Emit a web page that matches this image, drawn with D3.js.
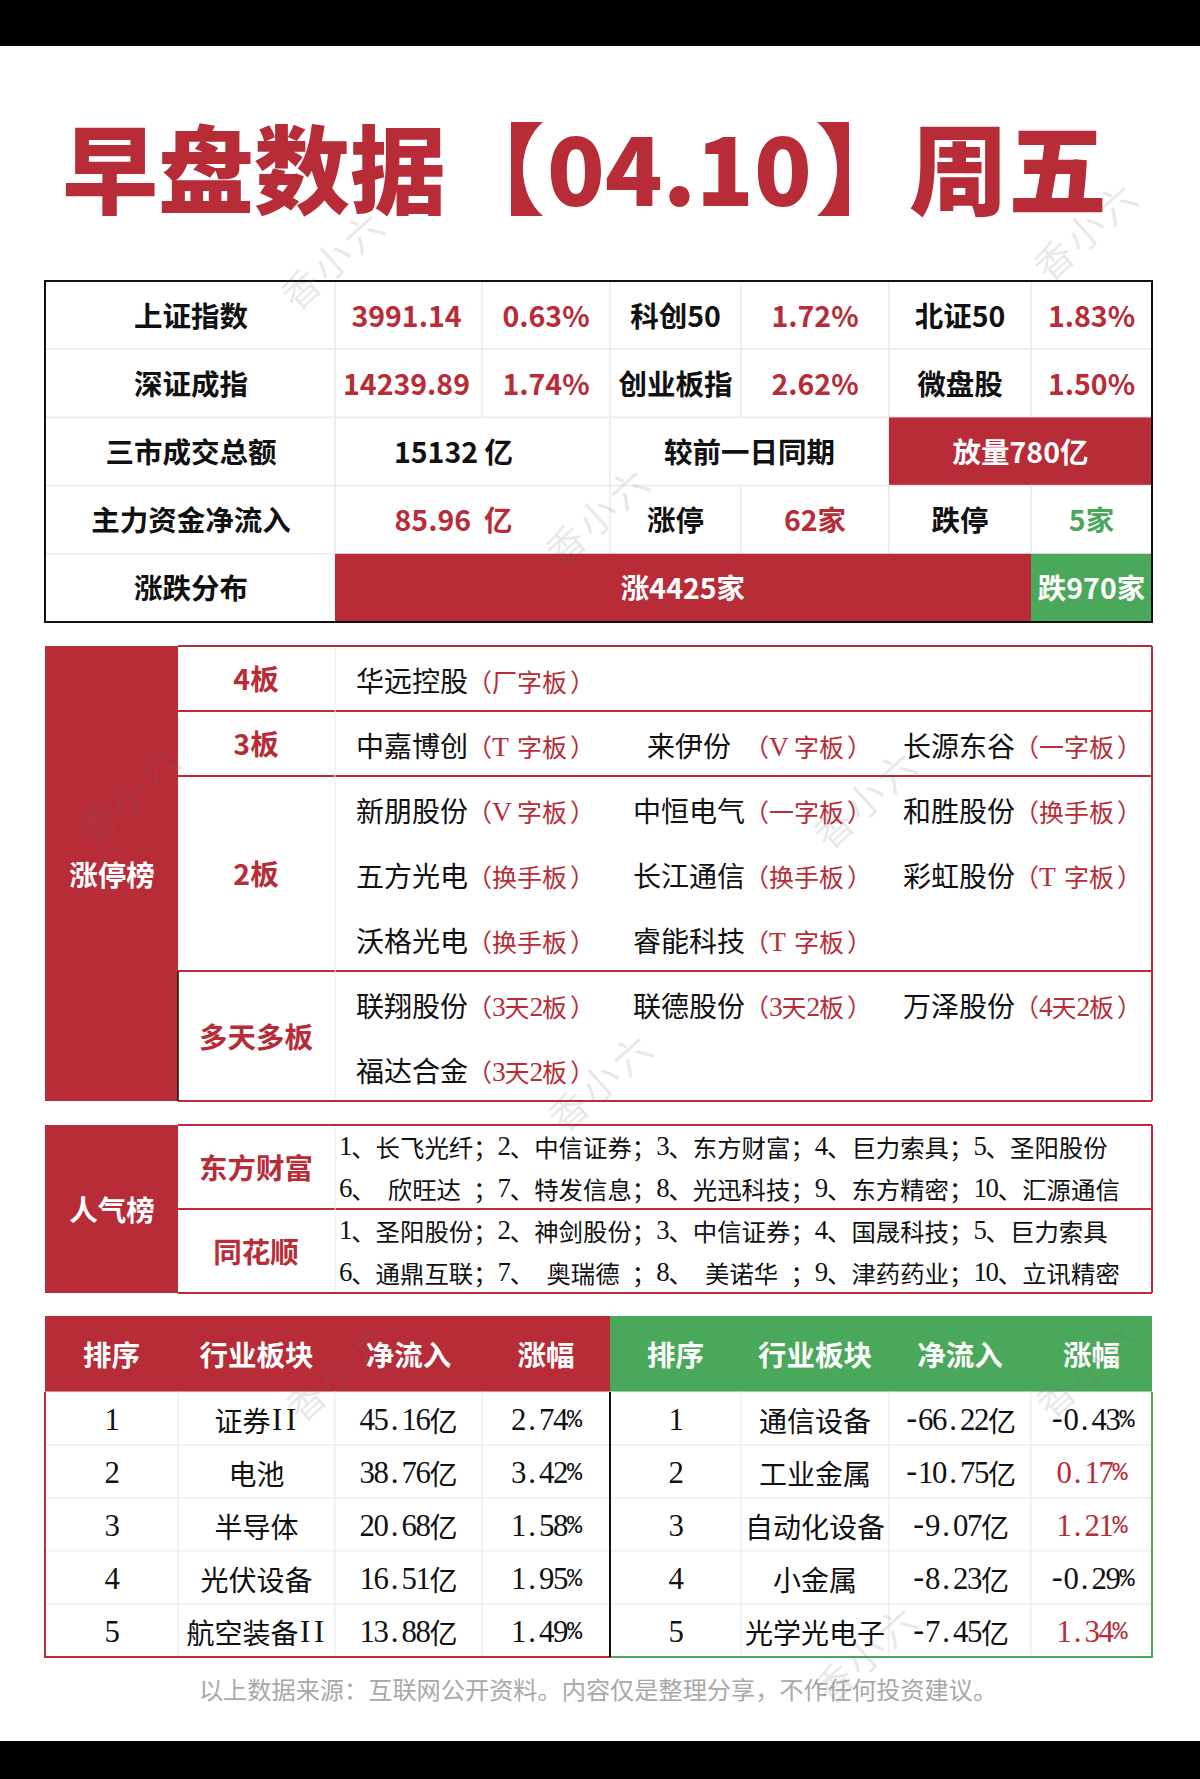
<!DOCTYPE html>
<html>
<head>
<meta charset="utf-8">
<script src="https://cdn.jsdelivr.net/npm/d3@7"></script>
<style>
  html, body { margin: 0; padding: 0; background: #fff; }
  svg { display: block; }
  text { white-space: pre; dominant-baseline: central; }
</style>
</head>
<body>
<svg id="chart" width="1200" height="1779"></svg>
<script>
// values
const titleParts = ['早盘数据', '【', '04.10', '】', '周五'];

const rowShanghai = ['上证指数', '3991.14', '0.63%', '科创50', '1.72%', '北证50', '1.83%'];
const rowShenzhen = ['深证成指', '14239.89', '1.74%', '创业板指', '2.62%', '微盘股', '1.50%'];
const rowVolume = ['三市成交总额', '15132 亿', '较前一日同期', '放量780亿'];
const rowFlow = ['主力资金净流入', '85.96  亿', '涨停', '62家', '跌停', '5家'];
const rowBreadth = ['涨跌分布', '涨4425家', '跌970家'];

const limitTitle = '涨停榜';
const boardLabels = ['4板', '3板', '2板', '多天多板'];
const boardRowCounts = [1, 1, 3, 2];
const stockRows = [
  [['华远控股', '（厂字板）']],
  [['中嘉博创', '（T 字板）'], ['来伊份', '（V 字板）'], ['长源东谷', '（一字板）']],
  [['新朋股份', '（V 字板）'], ['中恒电气', '（一字板）'], ['和胜股份', '（换手板）']],
  [['五方光电', '（换手板）'], ['长江通信', '（换手板）'], ['彩虹股份', '（T 字板）']],
  [['沃格光电', '（换手板）'], ['睿能科技', '（T 字板）']],
  [['联翔股份', '（3天2板）'], ['联德股份', '（3天2板）'], ['万泽股份', '（4天2板）']],
  [['福达合金', '（3天2板）']]
];

const hotTitle = '人气榜';
const hotSources = ['东方财富', '同花顺'];
const hotLines = [
  '1、长飞光纤；2、中信证券；3、东方财富；4、巨力索具；5、圣阳股份',
  '6、 欣旺达 ；7、特发信息；8、光迅科技；9、东方精密；10、汇源通信',
  '1、圣阳股份；2、神剑股份；3、中信证券；4、国晟科技；5、巨力索具',
  '6、通鼎互联；7、 奥瑞德 ；8、 美诺华 ；9、津药药业；10、立讯精密'
];

const sectorHeader = ['排序', '行业板块', '净流入', '涨幅'];
const ranks = ['1', '2', '3', '4', '5'];
const inSectors = ['证券II', '电池', '半导体', '光伏设备', '航空装备II'];
const inFlows = ['45.16亿', '38.76亿', '20.68亿', '16.51亿', '13.88亿'];
const inChanges = ['2.74%', '3.42%', '1.58%', '1.95%', '1.49%'];
const outSectors = ['通信设备', '工业金属', '自动化设备', '小金属', '光学光电子'];
const outFlows = ['-66.22亿', '-10.75亿', '-9.07亿', '-8.23亿', '-7.45亿'];
const outChanges = ['-0.43%', '0.17%', '1.21%', '-0.29%', '1.34%'];

const footNote = '以上数据来源：互联网公开资料。内容仅是整理分享，不作任何投资建议。';
const watermark = '香小六';

// layout
const RED = '#b72c36', GREEN = '#4aa85a', GRID = '#ececec';
const SANS = '"Noto Sans CJK SC", sans-serif';
const svg = d3.select('#chart');
const col = d3.scaleOrdinal(d3.range(8), [45, 178, 335, 482, 610, 741, 889, 1031]).unknown(1152);
const marketY = d3.scaleBand().domain(d3.range(5)).range([281, 622]);
const limitY = d3.scaleBand().domain(d3.range(7)).range([646, 1101]);
const hotY = d3.scaleBand().domain(d3.range(4)).range([1125, 1293]);
const sectorY = d3.scaleBand().domain(d3.range(5)).range([1392, 1657]);

// full width chinese + half width latin, one slot per character like the song font in the picture
function gridText(sel, size) {
  sel.each(function (d) {
    const chars = Array.from(d.text);
    const isLatin = c => c.charCodeAt(0) < 128;
    const w = c => (isLatin(c) ? size / 2 : size);
    const total = d3.sum(chars, w);
    let x = d.anchor === 'middle' ? d.x - total / 2 : d.x;
    const slots = chars.map(c => {
      const s = { c: c, x: x };
      x += w(c);
      return s;
    });
    d3.select(this).selectAll('tspan').data(slots).join('tspan')
      .attr('x', s => {
        if (s.c === '.') return s.x + size * 0.12;
        if (s.c === 'I') return s.x + size * 0.05;
        if (s.c === '-') return s.x - size * 0.05;
        if (s.c === '）') return s.x + size * 0.12;
        return s.x;
      })
      .style('font-size', s => (s.c === '%' ? size * 0.9 + 'px' : isLatin(s.c) ? size * 1.1 + 'px' : size + 'px'))
      .style('font-family', s => (s.c === '%' || s.c === '-' ? '"Liberation Mono"' : isLatin(s.c) ? '"Liberation Serif"' : SANS))
      .text(s => s.c);
  });
}

// black bars of the screenshot
svg.selectAll('rect.bar').data([[0, 46], [1741, 1779]]).join('rect')
  .attr('class', 'bar').attr('x', 0).attr('width', 1200)
  .attr('y', d => d[0]).attr('height', d => d[1] - d[0]).attr('fill', '#000');

// title
const titleX = [62, 446, 547, 815, 909];
const titleSize = [96, 99, 95, 99, 99];
svg.selectAll('text.title').data(titleParts).join('text')
  .attr('class', 'title')
  .attr('x', (d, i) => titleX[i]).attr('y', 164)
  .attr('font-family', SANS).attr('font-weight', 900).attr('font-size', (d, i) => titleSize[i])
  .attr('fill', RED)
  .text(d => d);

// market table
const fullSpans = [[0, 2], [2, 3], [3, 4], [4, 5], [5, 6], [6, 7], [7, 8]];
const fullKinds = ['black', 'red', 'red', 'black', 'red', 'black', 'red'];
const marketRows = [
  { values: rowShanghai, spans: fullSpans, kinds: fullKinds, dx: [1, -2, 0, 0, 0, 0, 0] },
  { values: rowShenzhen, spans: fullSpans, kinds: fullKinds, dx: [1, -2, 0, 0, 0, 0, 0] },
  { values: rowVolume, spans: [[0, 2], [2, 4], [4, 6], [6, 8]], kinds: ['black', 'black', 'black', 'fillRed'], dx: [1, -19, 0, 0] },
  { values: rowFlow, spans: [[0, 2], [2, 4], [4, 5], [5, 6], [6, 7], [7, 8]], kinds: ['black', 'red', 'black', 'red', 'black', 'green'], dx: [1, -19, 0, 0, 0, 0] },
  { values: rowBreadth, spans: [[0, 2], [2, 7], [7, 8]], kinds: ['black', 'fillRed', 'fillGreen'], dx: [1, 0, 0] }
];
const marketCells = marketRows.flatMap((r, ri) => r.values.map((v, i) => ({
  row: ri, text: v, x0: col(r.spans[i][0]), x1: col(r.spans[i][1]), kind: r.kinds[i], dx: r.dx[i]
})));
const textColor = { black: '#111', red: RED, green: GREEN, fillRed: '#fff', fillGreen: '#fff' };

svg.selectAll('rect.mcell').data(marketCells).join('rect')
  .attr('class', 'mcell')
  .attr('x', d => d.x0).attr('width', d => d.x1 - d.x0)
  .attr('y', d => marketY(d.row)).attr('height', marketY.bandwidth())
  .attr('fill', d => (d.kind === 'fillRed' ? RED : d.kind === 'fillGreen' ? GREEN : '#fff'))
  .attr('stroke', d => (d.kind.startsWith('fill') ? 'none' : GRID)).attr('stroke-width', 1.5);
svg.selectAll('text.mtext').data(marketCells).join('text')
  .attr('class', 'mtext')
  .attr('x', d => (d.x0 + d.x1) / 2 + d.dx).attr('y', d => marketY(d.row) + marketY.bandwidth() / 2 - 1)
  .attr('text-anchor', 'middle')
  .attr('font-family', SANS).attr('font-weight', 700).attr('font-size', 28.5)
  .attr('fill', d => textColor[d.kind])
  .text(d => d.text);
svg.append('rect')
  .attr('x', 45).attr('y', 281).attr('width', 1107).attr('height', 341)
  .attr('fill', 'none').attr('stroke', '#111').attr('stroke-width', 2);

// limit-up board
svg.append('rect').attr('x', 45).attr('y', 646).attr('width', 133).attr('height', 455).attr('fill', RED);
svg.append('text')
  .attr('x', 112).attr('y', limitY(3) + limitY.bandwidth() / 2)
  .attr('text-anchor', 'middle').attr('font-family', SANS).attr('font-weight', 700).attr('font-size', 28.5)
  .attr('fill', '#fff').text(limitTitle);

let rowStart = 0;
const boards = boardLabels.map((label, i) => {
  const b = { label: label, first: rowStart, count: boardRowCounts[i] };
  rowStart += boardRowCounts[i];
  return b;
});
svg.selectAll('line.bsep').data(boards).join('line')
  .attr('class', 'bsep')
  .attr('x1', 178).attr('x2', 1152)
  .attr('y1', d => limitY(d.first) + limitY.bandwidth() * d.count)
  .attr('y2', d => limitY(d.first) + limitY.bandwidth() * d.count)
  .attr('stroke', RED).attr('stroke-width', 2);
svg.append('line').attr('x1', 178).attr('x2', 1152).attr('y1', 646).attr('y2', 646).attr('stroke', RED).attr('stroke-width', 2);
svg.append('line').attr('x1', 1152).attr('x2', 1152).attr('y1', 646).attr('y2', 1101).attr('stroke', RED).attr('stroke-width', 2);
svg.append('line').attr('x1', 335).attr('x2', 335).attr('y1', 647).attr('y2', 1100).attr('stroke', GRID);
svg.append('line').attr('x1', 178).attr('x2', 178).attr('y1', 971).attr('y2', 1101).attr('stroke', '#111').attr('stroke-width', 1.5);
svg.selectAll('text.blabel').data(boards).join('text')
  .attr('class', 'blabel')
  .attr('x', 256)
  .attr('y', d => limitY(d.first) + limitY.bandwidth() * d.count / 2 - 1)
  .attr('text-anchor', 'middle').attr('font-family', SANS).attr('font-weight', 700).attr('font-size', 28.5)
  .attr('fill', RED).text(d => d.label);

const stockCols = [356, 633, 903];
const stocks = stockRows.flatMap((r, ri) => r.map((s, i) => ({ row: ri, col: i, name: s[0], tag: s[1] })));
svg.selectAll('text.stock').data(stocks).join('text')
  .attr('class', 'stock')
  .attr('x', d => stockCols[d.col] + 56)
  .attr('y', d => limitY(d.row) + limitY.bandwidth() / 2 + 1)
  .attr('text-anchor', 'middle').attr('font-family', SANS).attr('font-size', 28)
  .attr('fill', '#111').text(d => d.name);
svg.selectAll('text.tag').data(stocks.map(d => ({
  text: d.tag, x: stockCols[d.col] + 111, y: limitY(d.row) + limitY.bandwidth() / 2 + 2
}))).join('text')
  .attr('class', 'tag')
  .attr('y', d => d.y).attr('fill', RED)
  .call(gridText, 25);

// popularity board
svg.append('rect').attr('x', 45).attr('y', 1125).attr('width', 133).attr('height', 168).attr('fill', RED);
svg.append('text')
  .attr('x', 112).attr('y', 1208)
  .attr('text-anchor', 'middle').attr('font-family', SANS).attr('font-weight', 700).attr('font-size', 28.5)
  .attr('fill', '#fff').text(hotTitle);
svg.selectAll('line.hsep').data([1125, 1209, 1293]).join('line')
  .attr('class', 'hsep')
  .attr('x1', 178).attr('x2', 1152).attr('y1', d => d).attr('y2', d => d)
  .attr('stroke', RED).attr('stroke-width', 2);
svg.append('line').attr('x1', 1152).attr('x2', 1152).attr('y1', 1125).attr('y2', 1293).attr('stroke', RED).attr('stroke-width', 2);
svg.append('line').attr('x1', 335).attr('x2', 335).attr('y1', 1126).attr('y2', 1292).attr('stroke', GRID);
svg.selectAll('text.hsrc').data(hotSources).join('text')
  .attr('class', 'hsrc')
  .attr('x', 256).attr('y', (d, i) => hotY(i * 2) + hotY.bandwidth() - 1)
  .attr('text-anchor', 'middle').attr('font-family', SANS).attr('font-weight', 700).attr('font-size', 28.5)
  .attr('fill', RED).text(d => d);
svg.selectAll('text.hline').data(hotLines.map((t, i) => ({ text: t, x: 339, y: hotY(i) + hotY.bandwidth() / 2 }))).join('text')
  .attr('class', 'hline')
  .attr('y', d => d.y).attr('fill', '#111')
  .call(gridText, 24.4);

// sector tables
const sideCols = [[[0, 1], [1, 2], [2, 3], [3, 4]], [[4, 5], [5, 6], [6, 7], [7, 8]]]
  .map(side => side.map(s => [col(s[0]), col(s[1])]));
const headerCells = [0, 1].flatMap(side => sectorHeader.map((h, i) => ({ text: h, side: side, i: i })));

svg.selectAll('rect.shead').data([[45, 610, RED], [610, 1152, GREEN]]).join('rect')
  .attr('class', 'shead')
  .attr('x', d => d[0]).attr('width', d => d[1] - d[0])
  .attr('y', 1316).attr('height', 76).attr('fill', d => d[2]);
svg.selectAll('text.shead').data(headerCells).join('text')
  .attr('class', 'shead')
  .attr('x', d => (sideCols[d.side][d.i][0] + sideCols[d.side][d.i][1]) / 2).attr('y', 1353)
  .attr('text-anchor', 'middle').attr('font-family', SANS).attr('font-weight', 700).attr('font-size', 28.5)
  .attr('fill', '#fff').text(d => d.text);

const sectorCols = [
  { side: 0, i: 0, values: ranks }, { side: 0, i: 1, values: inSectors }, { side: 0, i: 2, values: inFlows }, { side: 0, i: 3, values: inChanges },
  { side: 1, i: 0, values: ranks }, { side: 1, i: 1, values: outSectors }, { side: 1, i: 2, values: outFlows }, { side: 1, i: 3, values: outChanges }
];
const sectorCells = sectorCols.flatMap(c => c.values.map((v, row) => ({
  text: v, row: row, side: c.side, i: c.i, anchor: 'middle',
  x: (sideCols[c.side][c.i][0] + sideCols[c.side][c.i][1]) / 2,
  y: sectorY(row) + sectorY.bandwidth() / 2 + 1.5
})));
svg.selectAll('rect.scell').data(sectorCells).join('rect')
  .attr('class', 'scell')
  .attr('x', d => sideCols[d.side][d.i][0]).attr('width', d => sideCols[d.side][d.i][1] - sideCols[d.side][d.i][0])
  .attr('y', d => sectorY(d.row)).attr('height', sectorY.bandwidth())
  .attr('fill', '#fff').attr('stroke', GRID);
svg.selectAll('text.scell').data(sectorCells).join('text')
  .attr('class', 'scell')
  .attr('y', d => d.y)
  .attr('fill', d => (d.i === 3 && d.side === 1 && !d.text.startsWith('-') ? RED : '#111'))
  .call(gridText, 28);
// outline: red left block, green right block, black divider
svg.append('path').attr('d', 'M45 1392V1657H610').attr('fill', 'none').attr('stroke', RED).attr('stroke-width', 2);
svg.append('path').attr('d', 'M610 1657H1152V1392').attr('fill', 'none').attr('stroke', GREEN).attr('stroke-width', 2);
svg.append('line').attr('x1', 610).attr('x2', 610).attr('y1', 1392).attr('y2', 1657).attr('stroke', '#111').attr('stroke-width', 2);

// footer
svg.append('text')
  .attr('x', 598).attr('y', 1688)
  .attr('text-anchor', 'middle').attr('font-family', SANS).attr('font-size', 24.2)
  .attr('fill', '#a8a8a8').text(footNote);

// watermarks
const markSpots = [[332, 258], [1085, 229], [597, 514], [128, 792], [865, 797], [600, 1080], [337, 1370], [1087, 1366], [865, 1652]];
svg.selectAll('text.mark').data(markSpots).join('text')
  .attr('class', 'mark')
  .attr('transform', d => `translate(${d[0]},${d[1]}) rotate(-42)`)
  .attr('text-anchor', 'middle').attr('font-family', SANS).attr('font-size', 38)
  .attr('letter-spacing', 4)
  .attr('fill', 'rgba(110,110,110,0.16)').text(watermark);
</script>
</body>
</html>
